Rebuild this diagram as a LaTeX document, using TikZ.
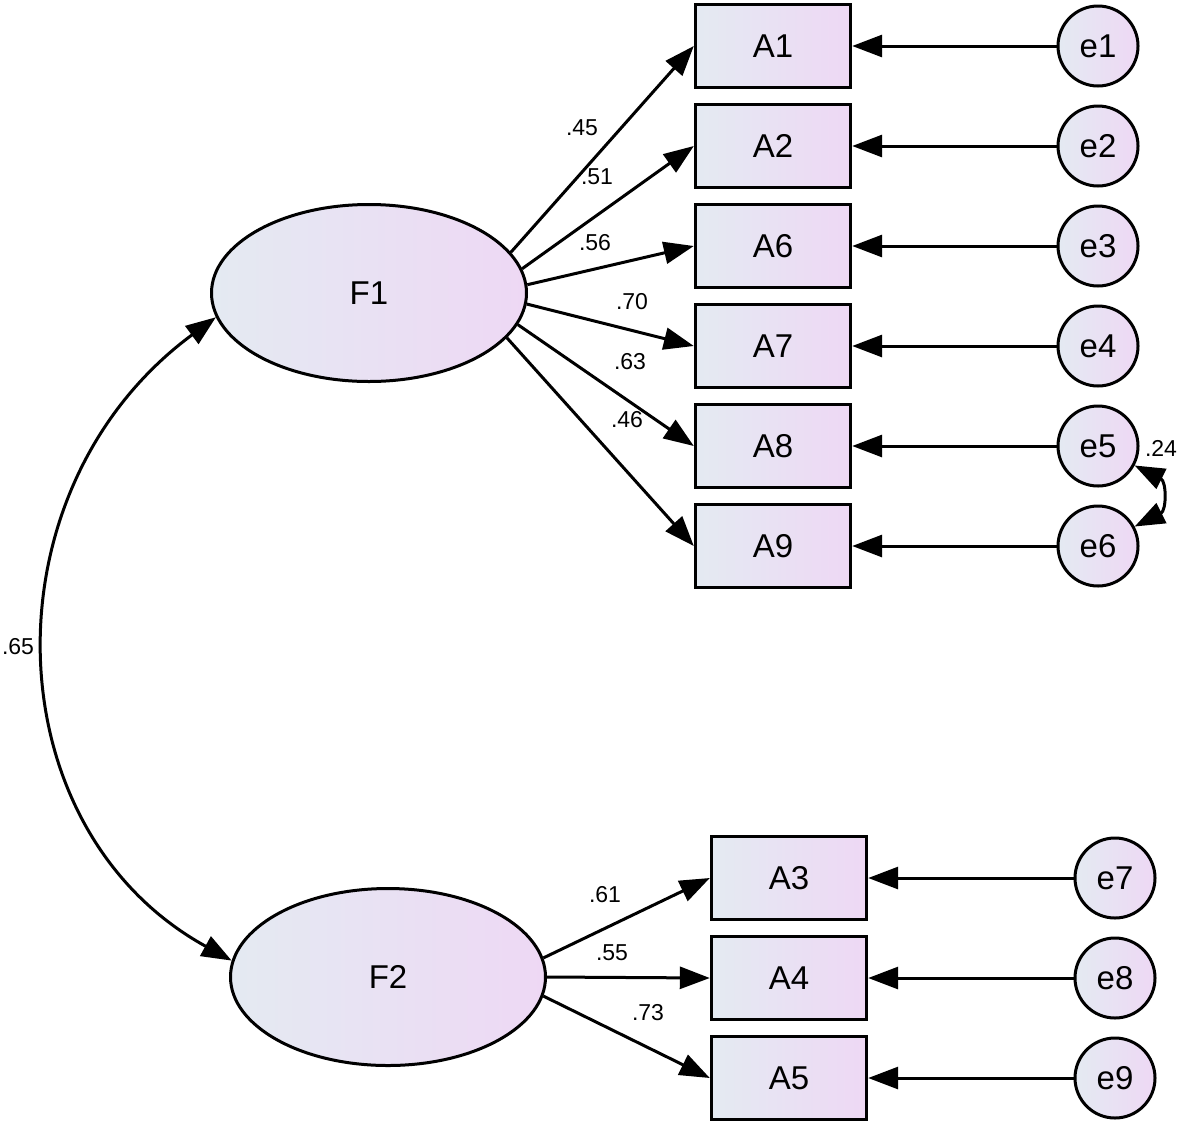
\documentclass[tikz,border=0pt]{standalone}
\usepackage{fontspec}
\setmainfont{Liberation Sans}
\usetikzlibrary{arrows.meta,shapes.geometric}
\definecolor{gl}{RGB}{228,234,242}
\definecolor{gr}{RGB}{238,216,244}
\begin{document}
\begin{tikzpicture}[x=1pt,y=-1pt,
  obs/.style={draw, line width=3.4pt, minimum width=155pt, minimum height=83pt, left color=gl, right color=gr, inner sep=0pt, font=\fontsize{33}{40}\selectfont},
  lat/.style={ellipse, draw, line width=3pt, minimum width=315pt, minimum height=177pt, left color=gl, right color=gr, inner sep=0pt, font=\fontsize{33}{40}\selectfont},
  err/.style={circle, draw, line width=3pt, minimum size=80pt, left color=gl, right color=gr, inner sep=0pt, font=\fontsize{33}{40}\selectfont},
  arr/.style={line width=3pt, -{Triangle[length=30pt,width=22pt]}},
  cov/.style={line width=3pt, {Triangle[length=30pt,width=22pt]}-{Triangle[length=30pt,width=22pt]}},
  coef/.style={inner sep=0pt, font=\fontsize{23}{28}\selectfont}
]
\fill[white] (0,0) rectangle (1180,1125);
\useasboundingbox (0,0) rectangle (1180,1125);

% latent factors
\node[lat] (F1) at (369,293) {F1};
\node[lat] (F2) at (388,977) {F2};

% observed variables
\node[obs] (A1) at (773,46) {A1};
\node[obs] (A2) at (773,146) {A2};
\node[obs] (A6) at (773,246) {A6};
\node[obs] (A7) at (773,346) {A7};
\node[obs] (A8) at (773,446) {A8};
\node[obs] (A9) at (773,546) {A9};
\node[obs] (A3) at (789,878) {A3};
\node[obs] (A4) at (789,978) {A4};
\node[obs] (A5) at (789,1078) {A5};

% error terms
\node[err] (e1) at (1098,46) {e1};
\node[err] (e2) at (1098,146) {e2};
\node[err] (e3) at (1098,246) {e3};
\node[err] (e4) at (1098,346) {e4};
\node[err] (e5) at (1098,446) {e5};
\node[err] (e6) at (1098,546) {e6};
\node[err] (e7) at (1115,878) {e7};
\node[err] (e8) at (1115,978) {e8};
\node[err] (e9) at (1115,1078) {e9};

% loadings
\draw[arr] (F1.16) -- (A1.west);
\draw[arr] (F1.9.5) -- (A2.west);
\draw[arr] (F1.3) -- (A6.west);
\draw[arr] (F1.-4) -- (A7.west);
\draw[arr] (F1.-12) -- (A8.west);
\draw[arr] (F1.-18) -- (A9.west);
\draw[arr] (F2.7) -- (A3.west);
\draw[arr] (F2.0) -- (A4.west);
\draw[arr] (F2.-7) -- (A5.west);

% error paths
\draw[arr] (e1) -- (A1);
\draw[arr] (e2) -- (A2);
\draw[arr] (e3) -- (A6);
\draw[arr] (e4) -- (A7);
\draw[arr] (e5) -- (A8);
\draw[arr] (e6) -- (A9);
\draw[arr] (e7) -- (A3);
\draw[arr] (e8) -- (A4);
\draw[arr] (e9) -- (A5);

% covariances
\draw[cov] (F1.189) .. controls +(-233,172) and +(-240,-132) .. (F2.174);
\draw[cov] (e5.-28) .. controls +(32,16) and +(32,-16) .. (e6.28);

% coefficient labels
\node[coef] (l45) at (582,128) {.45};
\node[coef] (l51) at (597,177) {.51};
\node[coef] (l56) at (595,243) {.56};
\node[coef] (l70) at (632,302) {.70};
\node[coef] (l63) at (630,362) {.63};
\node[coef] (l46) at (627,420) {.46};
\node[coef] (l61) at (605,895) {.61};
\node[coef] (l55) at (612,953) {.55};
\node[coef] (l73) at (648,1013) {.73};
\node[coef] (l24) at (1161,448) {.24};
\node[coef] (l65) at (18,647) {.65};
\end{tikzpicture}
\end{document}
